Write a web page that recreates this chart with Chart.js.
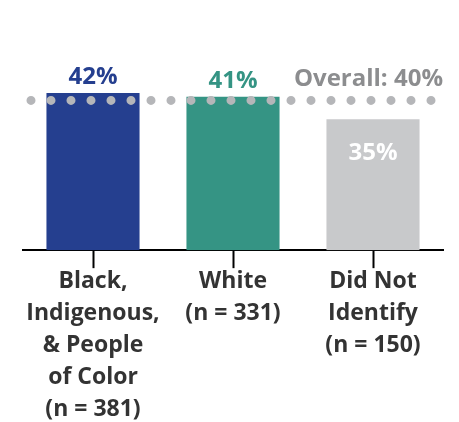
<!DOCTYPE html>
<html>
<head>
<meta charset="utf-8">
<script src="https://cdn.jsdelivr.net/npm/chart.js@4/dist/chart.umd.min.js"></script>
<style>
  html, body { margin: 0; padding: 0; background: #fff; }
  #wrap { width: 459px; height: 422px; }
</style>
</head>
<body>
<div id="wrap"><canvas id="chart"></canvas></div>
<script>
// data
var categories = [
  ['Black,', 'Indigenous,', '& People', 'of Color', '(n = 381)'],
  ['White', '(n = 331)'],
  ['Did Not', 'Identify', '(n = 150)']
];
var values = [42, 41, 35];
var valueLabels = ['42%', '41%', '35%'];
var overallValue = 40;
var overallLabel = 'Overall: 40%';

var barColors = ['#253f8f', '#359484', '#c8c9cb'];
var labelColors = ['#253f8f', '#359484', '#ffffff'];
var fontFamily = "'Open Sans', 'Noto Sans', sans-serif";

// dotted "overall" line + value labels
var overlayPlugin = {
  id: 'overlay',
  afterDatasetsDraw: function(chart) {
    var ctx = chart.ctx;
    var area = chart.chartArea;
    var y = chart.scales.y.getPixelForValue(overallValue);

    // dots
    ctx.save();
    ctx.strokeStyle = '#b5b6b9';
    ctx.lineWidth = 9;
    ctx.lineCap = 'round';
    ctx.setLineDash([0, 20]);
    ctx.beginPath();
    ctx.moveTo(area.left + 8, y);
    ctx.lineTo(area.right - 8, y);
    ctx.stroke();
    ctx.restore();

    // bar value labels
    var meta = chart.getDatasetMeta(0);
    ctx.save();
    ctx.font = 'bold 24px ' + fontFamily;
    ctx.textAlign = 'center';
    ctx.textBaseline = 'alphabetic';
    meta.data.forEach(function(bar, i) {
      ctx.fillStyle = labelColors[i];
      if (i === 2) {
        ctx.fillText(valueLabels[i], bar.x, bar.y + 41);
      } else {
        ctx.fillText(valueLabels[i], bar.x, bar.y - 9);
      }
    });

    // overall label
    ctx.fillStyle = '#8c8d8f';
    ctx.textAlign = 'right';
    ctx.fillText(overallLabel, area.right, y - 14);
    ctx.restore();
  }
};

var chartCtx = document.getElementById('chart').getContext('2d');
var chart = new Chart(chartCtx, {
  type: 'bar',
  data: {
    labels: categories,
    datasets: [{
      data: values,
      backgroundColor: barColors,
      borderWidth: 0,
      barPercentage: 0.665,
      categoryPercentage: 1
    }]
  },
  options: {
    responsive: true,
    maintainAspectRatio: false,
    animation: false,
    layout: { padding: { left: 23, right: 16, top: 63, bottom: 0 } },
    plugins: {
      legend: { display: false },
      tooltip: { enabled: false }
    },
    scales: {
      x: {
        offset: true,
        border: { display: true, color: '#000', width: 2 },
        grid: {
          display: true,
          offset: false,
          drawOnChartArea: false,
          drawTicks: true,
          tickLength: 18,
          tickWidth: 2,
          tickColor: '#000'
        },
        ticks: {
          color: '#333333',
          font: { family: fontFamily, size: 23, weight: 'bold', lineHeight: 1.39 },
          padding: -3,
          maxRotation: 0,
          minRotation: 0,
          autoSkip: false
        }
      },
      y: {
        display: false,
        min: 0,
        max: 50
      }
    }
  },
  plugins: [overlayPlugin]
});
</script>
</body>
</html>
